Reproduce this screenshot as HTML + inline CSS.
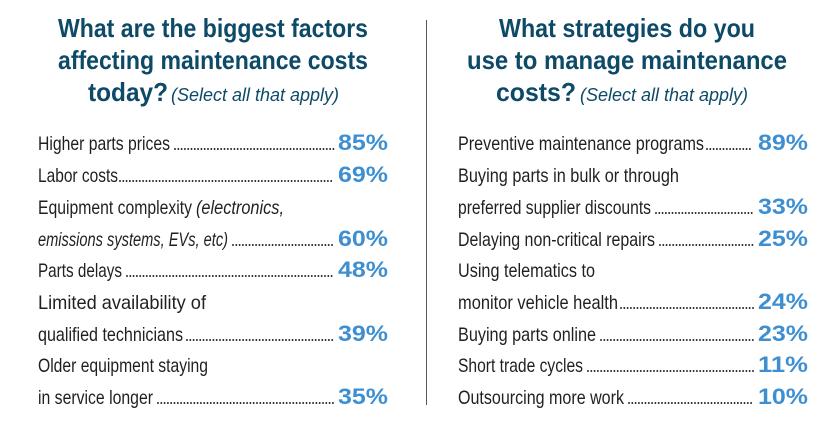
<!DOCTYPE html>
<html><head><meta charset="utf-8"><style>
html,body{margin:0;padding:0;background:#fff;}
svg{display:block;}
.t{font-family:"Liberation Sans",sans-serif;font-weight:bold;font-size:26px;fill:#0d4a68;}
.s{font-family:"Liberation Sans",sans-serif;font-style:italic;font-size:18px;fill:#0d4a68;}
.l{font-family:"Liberation Sans",sans-serif;font-size:19.5px;fill:#231f20;}
.p{font-family:"Liberation Sans",sans-serif;font-weight:bold;font-size:22.5px;fill:#3d8fd1;}
.d{stroke:#231f20;stroke-width:1.9;stroke-dasharray:0 3.3;stroke-linecap:round;}
</style></head><body>
<svg width="833" height="430" viewBox="0 0 833 430">
<line x1="426.5" y1="20" x2="426.5" y2="405" stroke="#555" stroke-width="1"/>
<text class="t" x="58" y="37" textLength="310" lengthAdjust="spacingAndGlyphs">What are the biggest factors</text>
<text class="t" x="58" y="69" textLength="310" lengthAdjust="spacingAndGlyphs">affecting maintenance costs</text>
<text class="t" x="88" y="101" textLength="80" lengthAdjust="spacingAndGlyphs">today?</text>
<text class="s" x="171" y="101" textLength="168" lengthAdjust="spacingAndGlyphs">(Select all that apply)</text>
<text class="t" x="499" y="37" textLength="256" lengthAdjust="spacingAndGlyphs">What strategies do you</text>
<text class="t" x="467" y="69" textLength="320" lengthAdjust="spacingAndGlyphs">use to manage maintenance</text>
<text class="t" x="496" y="101" textLength="80" lengthAdjust="spacingAndGlyphs">costs?</text>
<text class="s" x="580" y="101" textLength="168" lengthAdjust="spacingAndGlyphs">(Select all that apply)</text>

<text class="l" x="38" y="150" textLength="132" lengthAdjust="spacingAndGlyphs">Higher parts prices</text>
<line class="d" x1="175" y1="149" x2="334" y2="149"/>
<text class="p" x="338" y="150" textLength="50" lengthAdjust="spacingAndGlyphs">85%</text>

<text class="l" x="38" y="182" textLength="80" lengthAdjust="spacingAndGlyphs">Labor costs</text>
<line class="d" x1="120" y1="181" x2="334" y2="181"/>
<text class="p" x="338" y="182" textLength="50" lengthAdjust="spacingAndGlyphs">69%</text>

<text class="l" x="38" y="214" textLength="154" lengthAdjust="spacingAndGlyphs">Equipment complexity</text>
<text class="l" x="196" y="214" textLength="88" lengthAdjust="spacingAndGlyphs" font-style="italic">(electronics,</text>
<text class="l" x="38" y="246" textLength="190" lengthAdjust="spacingAndGlyphs" font-style="italic">emissions systems, EVs, etc)</text>
<line class="d" x1="233" y1="245" x2="334" y2="245"/>
<text class="p" x="338" y="246" textLength="50" lengthAdjust="spacingAndGlyphs">60%</text>

<text class="l" x="38" y="277" textLength="84" lengthAdjust="spacingAndGlyphs">Parts delays</text>
<line class="d" x1="127" y1="276" x2="334" y2="276"/>
<text class="p" x="338" y="277" textLength="50" lengthAdjust="spacingAndGlyphs">48%</text>

<text class="l" x="38" y="309" textLength="168" lengthAdjust="spacingAndGlyphs">Limited availability of</text>
<text class="l" x="38" y="341" textLength="145" lengthAdjust="spacingAndGlyphs">qualified technicians</text>
<line class="d" x1="187" y1="340" x2="334" y2="340"/>
<text class="p" x="338" y="341" textLength="50" lengthAdjust="spacingAndGlyphs">39%</text>

<text class="l" x="38" y="372" textLength="170" lengthAdjust="spacingAndGlyphs">Older equipment staying</text>
<text class="l" x="38" y="404" textLength="115" lengthAdjust="spacingAndGlyphs">in service longer</text>
<line class="d" x1="158" y1="403" x2="334" y2="403"/>
<text class="p" x="338" y="404" textLength="50" lengthAdjust="spacingAndGlyphs">35%</text>

<text class="l" x="458" y="150" textLength="246" lengthAdjust="spacingAndGlyphs">Preventive maintenance programs</text>
<line class="d" x1="707" y1="149" x2="753" y2="149"/>
<text class="p" x="758" y="150" textLength="50" lengthAdjust="spacingAndGlyphs">89%</text>

<text class="l" x="458" y="182" textLength="221" lengthAdjust="spacingAndGlyphs">Buying parts in bulk or through</text>
<text class="l" x="458" y="214" textLength="193" lengthAdjust="spacingAndGlyphs">preferred supplier discounts</text>
<line class="d" x1="656" y1="213" x2="753" y2="213"/>
<text class="p" x="758" y="214" textLength="50" lengthAdjust="spacingAndGlyphs">33%</text>

<text class="l" x="458" y="246" textLength="197" lengthAdjust="spacingAndGlyphs">Delaying non-critical repairs</text>
<line class="d" x1="660" y1="245" x2="753" y2="245"/>
<text class="p" x="758" y="246" textLength="50" lengthAdjust="spacingAndGlyphs">25%</text>

<text class="l" x="458" y="277" textLength="137" lengthAdjust="spacingAndGlyphs">Using telematics to</text>
<text class="l" x="458" y="309" textLength="160" lengthAdjust="spacingAndGlyphs">monitor vehicle health</text>
<line class="d" x1="621" y1="308" x2="753" y2="308"/>
<text class="p" x="758" y="309" textLength="50" lengthAdjust="spacingAndGlyphs">24%</text>

<text class="l" x="458" y="341" textLength="138" lengthAdjust="spacingAndGlyphs">Buying parts online</text>
<line class="d" x1="601" y1="340" x2="753" y2="340"/>
<text class="p" x="758" y="341" textLength="50" lengthAdjust="spacingAndGlyphs">23%</text>

<text class="l" x="458" y="372" textLength="125" lengthAdjust="spacingAndGlyphs">Short trade cycles</text>
<line class="d" x1="588" y1="371" x2="753" y2="371"/>
<text class="p" x="758" y="372" textLength="50" lengthAdjust="spacingAndGlyphs">11%</text>

<text class="l" x="458" y="404" textLength="166" lengthAdjust="spacingAndGlyphs">Outsourcing more work</text>
<line class="d" x1="629" y1="403" x2="753" y2="403"/>
<text class="p" x="758" y="404" textLength="50" lengthAdjust="spacingAndGlyphs">10%</text>
</svg>
</body></html>
